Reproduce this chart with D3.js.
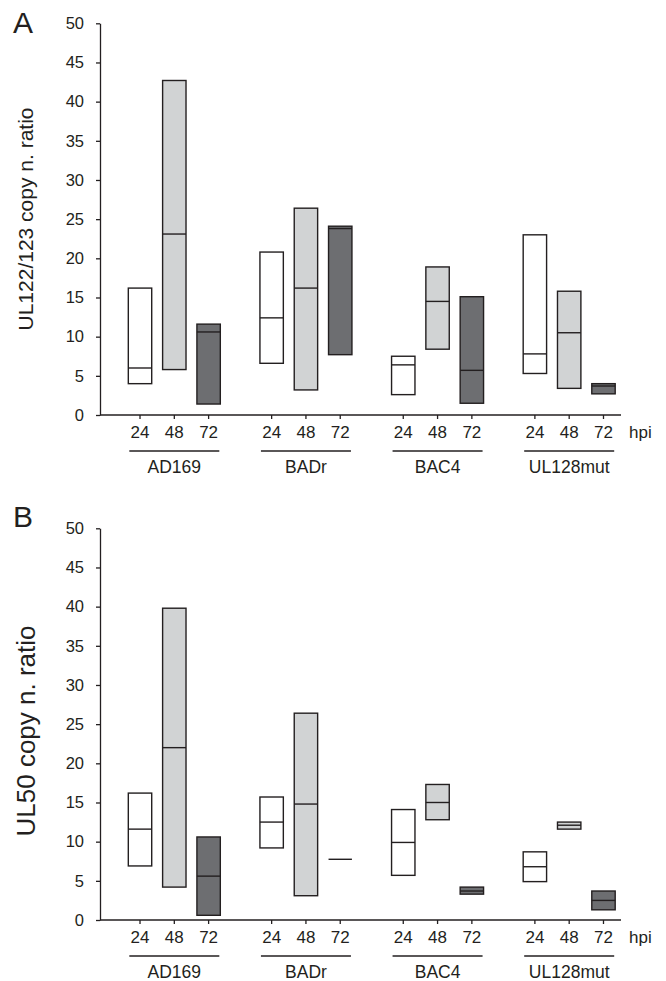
<!DOCTYPE html>
<html>
<head>
<meta charset="utf-8">
<script src="https://cdn.jsdelivr.net/npm/d3@7"></script>
<style>
  html, body { margin: 0; padding: 0; background: #fff; }
  svg { display: block; }
  text { font-family: "Liberation Sans", Arial, Helvetica, sans-serif; fill: #231f20; }
</style>
</head>
<body>
<svg id="chart" width="666" height="981"></svg>
<script>
// ---------- data ----------
const groups = ["AD169", "BADr", "BAC4", "UL128mut"];
const hpi = ["24", "48", "72"];
const yTicks = [0, 5, 10, 15, 20, 25, 30, 35, 40, 45, 50];

// Panel A: UL122/123 copy n. ratio (order: group x hpi)
const aLow    = [4.0, 5.8, 1.4,   6.6, 3.2, 7.7,   2.6, 8.4, 1.5,   5.3, 3.4, 2.7];
const aMedian = [6.0, 23.1, 10.6, 12.4, 16.2, 23.8, 6.4, 14.5, 5.7, 7.8, 10.5, 3.7];
const aHigh   = [16.2, 42.7, 11.6, 20.8, 26.4, 24.1, 7.5, 18.9, 15.1, 23.0, 15.8, 4.0];

// Panel B: UL50 copy n. ratio
const bLow    = [6.9, 4.2, 0.6,   9.2, 3.1, 7.75,  5.7, 12.8, 3.3,  4.9, 11.6, 1.3];
const bMedian = [11.6, 22.0, 5.6, 12.5, 14.8, 7.75, 9.9, 15.0, 3.7, 6.8, 12.1, 2.5];
const bHigh   = [16.2, 39.8, 10.6, 15.7, 26.4, 7.75, 14.1, 17.3, 4.2, 8.7, 12.5, 3.7];

const fills = { "24": "#ffffff", "48": "#d1d3d4", "72": "#6d6e71" };
const ink = "#231f20";

// ---------- layout ----------
const svg = d3.select("#chart");
const xAxisLeft = 100, xAxisRight = 621;
const xGroup = d3.scaleBand().domain(groups).range([108.5, 635]).padding(0);
const xInner = d3.scalePoint().domain(hpi).range([-34.3, 34.3]);
const xPos = (g, h) => xGroup(g) + xGroup.bandwidth() / 2 + xInner(h);
const barW = 23.4;

function drawPanel(cfg) {
  const y = d3.scaleLinear().domain([0, 50]).range([cfg.y0, cfg.y50]);
  const gp = svg.append("g");

  // y axis
  const ya = gp.append("g")
    .attr("transform", `translate(${xAxisLeft},0)`)
    .call(d3.axisLeft(y).tickValues(yTicks).tickSize(4).tickSizeOuter(0).tickPadding(12));
  ya.selectAll("path, line").attr("stroke", ink).attr("stroke-width", 1.3);
  ya.selectAll("text").attr("font-size", 16.5).attr("fill", ink)
    .style("font-family", '"Liberation Sans", Arial, sans-serif');

  // x axis line
  gp.append("line")
    .attr("x1", xAxisLeft).attr("x2", xAxisRight)
    .attr("y1", y(0)).attr("y2", y(0))
    .attr("stroke", ink).attr("stroke-width", 1.3);

  const items = [];
  groups.forEach((g, gi) => hpi.forEach((h, hi) => {
    const k = gi * 3 + hi;
    items.push({ g, h, lo: cfg.low[k], md: cfg.med[k], hi: cfg.high[k] });
  }));

  // x ticks
  gp.selectAll(".xt").data(items).enter().append("line")
    .attr("x1", d => xPos(d.g, d.h)).attr("x2", d => xPos(d.g, d.h))
    .attr("y1", y(0)).attr("y2", y(0) + 4)
    .attr("stroke", ink).attr("stroke-width", 1.3);

  // x tick labels
  gp.selectAll(".xl").data(items).enter().append("text")
    .attr("x", d => xPos(d.g, d.h)).attr("y", y(0) + 23)
    .attr("text-anchor", "middle").attr("font-size", 17)
    .text(d => d.h);

  gp.append("text").attr("x", 629).attr("y", y(0) + 23)
    .attr("font-size", 17).text("hpi");

  // group underline + labels
  gp.selectAll(".gu").data(groups).enter().append("line")
    .attr("x1", g => xPos(g, "48") - 45).attr("x2", g => xPos(g, "48") + 45)
    .attr("y1", y(0) + 36).attr("y2", y(0) + 36)
    .attr("stroke", ink).attr("stroke-width", 1.6);
  gp.selectAll(".gl").data(groups).enter().append("text")
    .attr("x", g => xPos(g, "48")).attr("y", y(0) + 57.5)
    .attr("text-anchor", "middle").attr("font-size", 17.5)
    .text(g => g);

  // boxes
  const boxes = gp.selectAll(".box").data(items).enter().append("g");
  boxes.filter(d => d.hi > d.lo).append("rect")
    .attr("x", d => xPos(d.g, d.h) - barW / 2)
    .attr("width", barW)
    .attr("y", d => y(d.hi))
    .attr("height", d => y(d.lo) - y(d.hi))
    .attr("fill", d => fills[d.h])
    .attr("stroke", ink).attr("stroke-width", 1.4);
  boxes.append("line")
    .attr("x1", d => xPos(d.g, d.h) - barW / 2)
    .attr("x2", d => xPos(d.g, d.h) + barW / 2)
    .attr("y1", d => y(d.md)).attr("y2", d => y(d.md))
    .attr("stroke", ink).attr("stroke-width", 1.4);

  // y label
  gp.append("text")
    .attr("transform", `translate(${cfg.labelX},${cfg.labelY}) rotate(-90)`)
    .attr("text-anchor", "middle").attr("font-size", cfg.labelSize)
    .text(cfg.label);

  // panel letter
  gp.append("text").attr("x", 13).attr("y", cfg.letterY)
    .attr("font-size", 30).text(cfg.letter);
}

drawPanel({
  y0: 415, y50: 23.3, low: aLow, med: aMedian, high: aHigh,
  label: "UL122/123 copy n. ratio", labelX: 33, labelY: 219, labelSize: 21,
  letter: "A", letterY: 33
});
drawPanel({
  y0: 920, y50: 528.3, low: bLow, med: bMedian, high: bHigh,
  label: "UL50 copy n. ratio", labelX: 35, labelY: 731, labelSize: 26,
  letter: "B", letterY: 527
});
</script>
</body>
</html>
